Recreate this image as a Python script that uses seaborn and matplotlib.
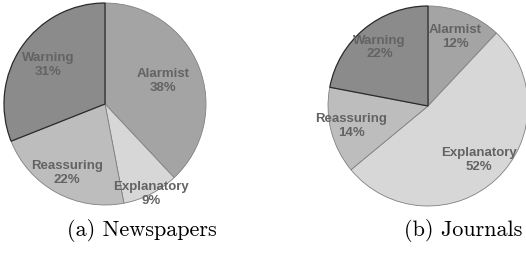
import numpy as np
import matplotlib
matplotlib.use("Agg")
import matplotlib.pyplot as plt
import seaborn as sns

# Data
categories = ['Alarmist', 'Explanatory', 'Reassuring', 'Warning']
newspapers = [38, 9, 22, 31]
journals = [12, 52, 14, 22]
captions = ['(a) Newspapers', '(b) Journals']

sns.set_theme(style='white')
plt.rcParams['font.family'] = ['Liberation Sans', 'DejaVu Sans']

colors = ['#a4a4a4', '#d7d7d7', '#bdbdbd', '#8b8b8b']
# radial position of each label (fraction of radius), per pie
label_dist = [[0.62, 1.0, 0.78, 0.68], [0.74, 0.74, 0.79, 0.76]]

fig = plt.figure(figsize=(5.26, 2.54), dpi=100)
W, H = 526, 254
# (center x, center y from top, radius) in pixels
placements = [(105, 104, 101), (428, 106, 100)]


def draw_pie(ax, values, dists):
    wedges, texts = ax.pie(values, labels=None, colors=colors, startangle=90,
                           counterclock=False,
                           wedgeprops=dict(edgecolor='#808080', linewidth=0.6))
    wedges[-1].set_edgecolor('#2a2a2a')
    wedges[-1].set_linewidth(0.9)
    for w, v, name, d in zip(wedges, values, categories, dists):
        ang = np.deg2rad((w.theta1 + w.theta2) / 2)
        ax.text(d * np.cos(ang), d * np.sin(ang), f'{name}\n{v}%',
                ha='center', va='center', fontsize=9.5, fontweight='bold',
                color='#636363', linespacing=1.2)
    ax.set_xlim(-1, 1)
    ax.set_ylim(-1, 1)
    ax.set_aspect('equal')
    ax.axis('off')


for (cx, cy, r), vals, dists in zip(placements, [newspapers, journals], label_dist):
    ax = fig.add_axes([(cx - r) / W, (H - cy - r) / H, 2 * r / W, 2 * r / H])
    draw_pie(ax, vals, dists)

fig.text(142 / W, 1 - 230 / H, captions[0], ha='center', va='center',
         fontsize=16, family='cmr10', color='black')
fig.text(463 / W, 1 - 230 / H, captions[1], ha='center', va='center',
         fontsize=16, family='cmr10', color='black')

fig.savefig('out.png', dpi=100)
